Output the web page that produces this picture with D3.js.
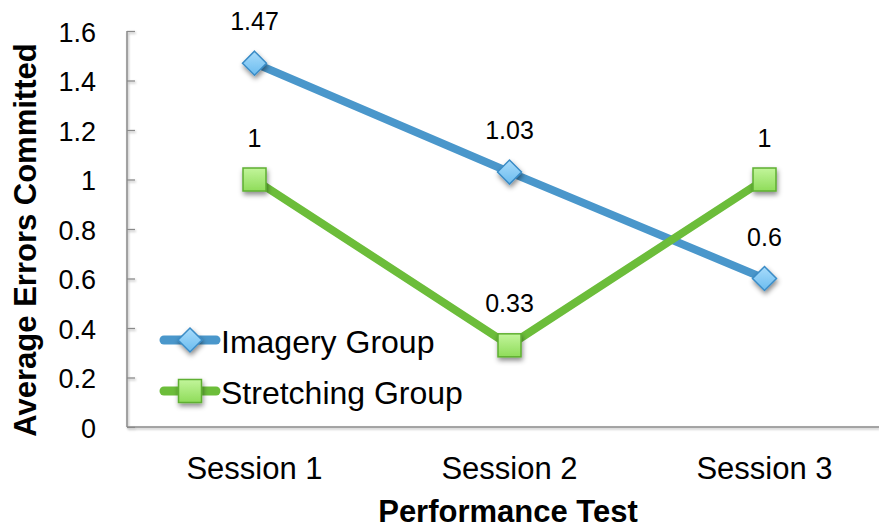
<!DOCTYPE html>
<html>
<head>
<meta charset="utf-8">
<script src="https://cdn.jsdelivr.net/npm/d3@7"></script>
<style>
  html, body { margin: 0; padding: 0; background: #fff; }
  svg { display: block; font-family: "Liberation Sans", Arial, Helvetica, sans-serif; }
</style>
</head>
<body>
<svg id="chart" width="879" height="529"></svg>
<script>
// Average errors per session for each training group
const sessions = ["Session 1", "Session 2", "Session 3"];
const imageryValues = [1.47, 1.03, 0.6];
const stretchingValues = [1, 0.33, 1];
const seriesNames = ["Imagery Group", "Stretching Group"];
const yTicks = [0, 0.2, 0.4, 0.6, 0.8, 1, 1.2, 1.4, 1.6];

(function () {
const svg = d3.select("#chart");
const defs = svg.append("defs");

// soft drop shadow under the markers
const shadow = defs.append("filter").attr("id", "shadow")
  .attr("x", "-50%").attr("y", "-50%").attr("width", "200%").attr("height", "200%");
shadow.append("feDropShadow").attr("dx", 1).attr("dy", 3).attr("stdDeviation", 2.5)
  .attr("flood-color", "#000").attr("flood-opacity", 0.45);

const axisShadow = defs.append("filter").attr("id", "axisShadow")
  .attr("x", "-10%").attr("y", "-10%").attr("width", "120%").attr("height", "120%");
axisShadow.append("feDropShadow").attr("dx", 1).attr("dy", 1.5).attr("stdDeviation", 1)
  .attr("flood-color", "#000").attr("flood-opacity", 0.3);

const gBlue = defs.append("linearGradient").attr("id", "gBlue")
  .attr("x1", 0).attr("y1", 0).attr("x2", 0).attr("y2", 1);
gBlue.append("stop").attr("offset", "0%").attr("stop-color", "#a9dcfb");
gBlue.append("stop").attr("offset", "100%").attr("stop-color", "#6bbcef");

const gGreen = defs.append("linearGradient").attr("id", "gGreen")
  .attr("x1", 0).attr("y1", 0).attr("x2", 0).attr("y2", 1);
gGreen.append("stop").attr("offset", "0%").attr("stop-color", "#c2f59b");
gGreen.append("stop").attr("offset", "100%").attr("stop-color", "#8fdc5a");

const plotLeft = 127, plotBottom = 427, plotTop = 31, plotRight = 892;

const x = d3.scaleBand().domain(sessions).range([plotLeft, plotRight]);
const y = d3.scaleLinear().domain([0, 1.6]).range([plotBottom, plotTop]);

const series = [
  { name: seriesNames[0], values: imageryValues, line: "#4a97cb", fill: "url(#gBlue)", stroke: "#3b8cc6", shape: "diamond" },
  { name: seriesNames[1], values: stretchingValues, line: "#6cbd3a", fill: "url(#gGreen)", stroke: "#5eaf30", shape: "square" }
];

// axes
const axisG = svg.append("g").attr("filter", "url(#axisShadow)");
const yAxis = d3.axisRight(y).tickValues(yTicks).tickSize(8).tickFormat("");
axisG.append("g").attr("transform", `translate(${plotLeft},0)`).call(yAxis)
  .call(g => g.select(".domain").remove())
  .call(g => g.selectAll(".tick line").attr("stroke", "#8a8a8a").attr("stroke-width", 1.3));
axisG.append("line").attr("x1", plotLeft).attr("x2", plotLeft).attr("y1", plotTop).attr("y2", plotBottom)
  .attr("stroke", "#8a8a8a").attr("stroke-width", 1.5);
axisG.append("line").attr("x1", plotLeft).attr("x2", 879).attr("y1", plotBottom).attr("y2", plotBottom)
  .attr("stroke", "#8a8a8a").attr("stroke-width", 1.5);

// y tick labels
svg.append("g").selectAll("text").data(yTicks).join("text")
  .attr("x", 96).attr("y", d => y(d) + 1).attr("dy", "0.36em")
  .attr("text-anchor", "end").attr("font-size", 27).attr("fill", "#000")
  .text(d => d3.format("")(d));

// x category labels
svg.append("g").selectAll("text").data(sessions).join("text")
  .attr("x", d => x(d) + x.bandwidth() / 2).attr("y", 468).attr("dy", "0.36em")
  .attr("text-anchor", "middle").attr("font-size", 31).attr("fill", "#000")
  .text(d => d);

// axis titles
svg.append("text").attr("x", 508).attr("y", 522).attr("text-anchor", "middle")
  .attr("font-size", 31).attr("font-weight", "bold").text("Performance Test");
svg.append("text").attr("transform", "translate(36,240) rotate(-90)").attr("text-anchor", "middle")
  .attr("font-size", 31).attr("font-weight", "bold").text("Average Errors Committed");

function marker(sel, s, cx, cy) {
  if (s.shape === "diamond") {
    const r = 12;
    sel.append("path")
      .attr("d", `M${cx},${cy - r}L${cx + r},${cy}L${cx},${cy + r}L${cx - r},${cy}Z`)
      .attr("fill", s.fill).attr("stroke", s.stroke).attr("stroke-width", 1.5)
      .attr("filter", "url(#shadow)");
  } else {
    const h = 11.5;
    sel.append("rect").attr("x", cx - h).attr("y", cy - h).attr("width", 2 * h).attr("height", 2 * h)
      .attr("fill", s.fill).attr("stroke", s.stroke).attr("stroke-width", 1.5)
      .attr("filter", "url(#shadow)");
  }
}

const line = d3.line().x((d, i) => x(sessions[i]) + x.bandwidth() / 2).y(d => y(d));

// lines then markers
series.forEach(s => {
  svg.append("path").datum(s.values).attr("d", line)
    .attr("fill", "none").attr("stroke", s.line).attr("stroke-width", 8)
    .attr("stroke-linejoin", "round").attr("stroke-linecap", "butt");
});
series.forEach(s => {
  const g = svg.append("g");
  s.values.forEach((v, i) => marker(g, s, x(sessions[i]) + x.bandwidth() / 2, y(v)));
});

// value labels above each point
series.forEach(s => {
  svg.append("g").selectAll("text").data(s.values).join("text")
    .attr("x", (d, i) => x(sessions[i]) + x.bandwidth() / 2)
    .attr("y", d => y(d) - 42).attr("dy", "0.36em")
    .attr("text-anchor", "middle").attr("font-size", 25).attr("fill", "#000")
    .text(d => d);
});

// legend
const legend = svg.append("g");
series.forEach((s, i) => {
  const ly = 340 + i * 51;
  legend.append("line").attr("x1", 164).attr("x2", 216).attr("y1", ly).attr("y2", ly)
    .attr("stroke", s.line).attr("stroke-width", 9).attr("stroke-linecap", "round");
  marker(legend, s, 190, ly);
  legend.append("text").attr("x", 221).attr("y", ly + 1).attr("dy", "0.36em")
    .attr("font-size", 32).attr("fill", "#000").text(s.name);
});
})();
</script>
</body>
</html>
